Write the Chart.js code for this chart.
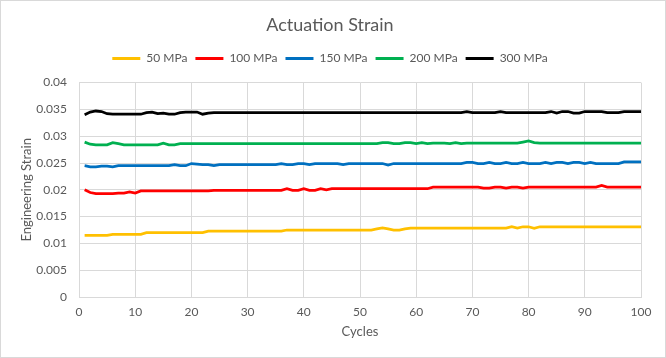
<!DOCTYPE html>
<html lang="en">
<head>
<meta charset="UTF-8">
<title>Actuation Strain</title>
<script src="https://cdn.jsdelivr.net/npm/chart.js"></script>
<style>
  body { margin: 0; padding: 0; background: #fff; }
  .frame {
    width: 666px; height: 358px; box-sizing: border-box;
    border: 1px solid #d9d9d9; background: #fff;
  }
  .frame canvas { display: block; }
</style>
</head>
<body>
<div class="frame"><canvas id="strain" width="664" height="356"></canvas></div>
<script>
const cycles = [1,2,3,4,5,6,7,8,9,10,11,12,13,14,15,16,17,18,19,20,21,22,23,24,25,26,27,28,29,30,
  31,32,33,34,35,36,37,38,39,40,41,42,43,44,45,46,47,48,49,50,51,52,53,54,55,56,57,58,59,60,
  61,62,63,64,65,66,67,68,69,70,71,72,73,74,75,76,77,78,79,80,81,82,83,84,85,86,87,88,89,90,
  91,92,93,94,95,96,97,98,99,100];

const seriesNames = ['50 MPa', '100 MPa', '150 MPa', '200 MPa', '300 MPa'];
const seriesColors = ['#FFC000', '#FF0000', '#0070C0', '#00B050', '#000000'];

const strain50 = [
  0.0115,0.0115,0.0115,0.0115,0.0115,0.0117,0.0117,0.0117,0.0117,0.0117,
  0.0117,0.0120,0.0120,0.0120,0.0120,0.0120,0.0120,0.0120,0.0120,0.0120,
  0.0120,0.0120,0.0123,0.0123,0.0123,0.0123,0.0123,0.0123,0.0123,0.0123,
  0.0123,0.0123,0.0123,0.0123,0.0123,0.0123,0.0125,0.0125,0.0125,0.0125,
  0.0125,0.0125,0.0125,0.0125,0.0125,0.0125,0.0125,0.0125,0.0125,0.0125,
  0.0125,0.0125,0.0127,0.0129,0.0127,0.0125,0.0125,0.0127,0.01285,0.01285,
  0.01285,0.01285,0.01285,0.01285,0.01285,0.01285,0.01285,0.01285,0.01285,0.01285,
  0.01285,0.01285,0.01285,0.01285,0.01285,0.01285,0.0131,0.01285,0.0131,0.0131,
  0.0128,0.0131,0.0131,0.0131,0.0131,0.0131,0.0131,0.0131,0.0131,0.0131,
  0.0131,0.0131,0.0131,0.0131,0.0131,0.0131,0.0131,0.0131,0.0131,0.0131
];
const strain100 = [
  0.0200,0.0195,0.0193,0.0193,0.0193,0.0193,0.0194,0.0194,0.0196,0.0194,
  0.0198,0.0198,0.0198,0.0198,0.0198,0.0198,0.0198,0.0198,0.0198,0.0198,
  0.0198,0.0198,0.0198,0.0199,0.0199,0.0199,0.0199,0.0199,0.0199,0.0199,
  0.0199,0.0199,0.0199,0.0199,0.0199,0.0199,0.0202,0.0199,0.0199,0.0202,
  0.0199,0.0199,0.0202,0.0200,0.0202,0.0202,0.0202,0.0202,0.0202,0.0202,
  0.0202,0.0202,0.0202,0.0202,0.0202,0.0202,0.0202,0.0202,0.0202,0.0202,
  0.0202,0.0202,0.0205,0.0205,0.0205,0.0205,0.0205,0.0205,0.0205,0.0205,
  0.0205,0.0203,0.0203,0.0205,0.0205,0.0203,0.0205,0.0205,0.0203,0.0205,
  0.0205,0.0205,0.0205,0.0205,0.0205,0.0205,0.0205,0.0205,0.0205,0.0205,
  0.0205,0.0205,0.0208,0.0205,0.0205,0.0205,0.0205,0.0205,0.0205,0.0205
];
const strain150 = [
  0.0245,0.0243,0.0243,0.0244,0.0244,0.0243,0.0245,0.0245,0.0245,0.0245,
  0.0245,0.0245,0.0245,0.0245,0.0245,0.0245,0.0247,0.0245,0.0245,0.0249,
  0.0248,0.0247,0.0247,0.0245,0.0247,0.0247,0.0247,0.0247,0.0247,0.0247,
  0.0247,0.0247,0.0247,0.0247,0.0247,0.0249,0.0247,0.0247,0.0249,0.0249,
  0.0247,0.0249,0.0249,0.0249,0.0249,0.0249,0.0247,0.0249,0.0249,0.0249,
  0.0249,0.0249,0.0249,0.0249,0.0246,0.0249,0.0249,0.0249,0.0249,0.0249,
  0.0249,0.0249,0.0249,0.0249,0.0249,0.0249,0.0249,0.0249,0.0251,0.0251,
  0.0249,0.0249,0.0251,0.0249,0.0249,0.0251,0.0249,0.0249,0.0251,0.0249,
  0.0249,0.0249,0.0251,0.0249,0.0251,0.0251,0.0249,0.0251,0.0251,0.0249,
  0.0251,0.0249,0.0249,0.0249,0.0249,0.0249,0.0252,0.0252,0.0252,0.0252
];
const strain200 = [
  0.0289,0.0285,0.0284,0.0284,0.0284,0.0288,0.0286,0.0284,0.0284,0.0284,
  0.0284,0.0284,0.0284,0.0284,0.0287,0.0284,0.0284,0.0286,0.0286,0.0286,
  0.0286,0.0286,0.0286,0.0286,0.0286,0.0286,0.0286,0.0286,0.0286,0.0286,
  0.0286,0.0286,0.0286,0.0286,0.0286,0.0286,0.0286,0.0286,0.0286,0.0286,
  0.0286,0.0286,0.0286,0.0286,0.0286,0.0286,0.0286,0.0286,0.0286,0.0286,
  0.0286,0.0286,0.0286,0.0288,0.0288,0.0286,0.0286,0.0288,0.0288,0.0286,
  0.0288,0.0286,0.0287,0.0287,0.0287,0.0286,0.0288,0.0286,0.0287,0.0287,
  0.0287,0.0287,0.0287,0.0287,0.0287,0.0287,0.0287,0.0287,0.0289,0.0291,
  0.0288,0.0287,0.0287,0.0287,0.0287,0.0287,0.0287,0.0287,0.0287,0.0287,
  0.0287,0.0287,0.0287,0.0287,0.0287,0.0287,0.0287,0.0287,0.0287,0.0287
];
const strain300 = [
  0.0340,0.0345,0.0347,0.0346,0.0342,0.0341,0.0341,0.0341,0.0341,0.0341,
  0.0341,0.0344,0.0345,0.0342,0.0343,0.0341,0.0341,0.0344,0.0345,0.0345,
  0.0345,0.0341,0.0343,0.0344,0.0344,0.0344,0.0344,0.0344,0.0344,0.0344,
  0.0344,0.0344,0.0344,0.0344,0.0344,0.0344,0.0344,0.0344,0.0344,0.0344,
  0.0344,0.0344,0.0344,0.0344,0.0344,0.0344,0.0344,0.0344,0.0344,0.0344,
  0.0344,0.0344,0.0344,0.0344,0.0344,0.0344,0.0344,0.0344,0.0344,0.0344,
  0.0344,0.0344,0.0344,0.0344,0.0344,0.0344,0.0344,0.0344,0.0346,0.0344,
  0.0344,0.0344,0.0344,0.0344,0.0346,0.0344,0.0344,0.0344,0.0344,0.0344,
  0.0344,0.0344,0.0344,0.0346,0.0343,0.0346,0.0346,0.0343,0.0343,0.0346,
  0.0346,0.0346,0.0346,0.0344,0.0344,0.0344,0.0346,0.0346,0.0346,0.0346
];

const xTickLabels = ['0','10','20','30','40','50','60','70','80','90','100'];
const yTickLabels = ['0','0.005','0.01','0.015','0.02','0.025','0.03','0.035','0.04'];

const allSeries = [strain50, strain100, strain150, strain200, strain300];
const textColor = '#595959';
const gridColor = '#d9d9d9';
const fontFamily = "Lato, 'Open Sans', sans-serif";

// extra room under the legend, Excel leaves a gap before the plot
const legendGap = {
  id: 'legendGap',
  beforeInit(chart) {
    const fit = chart.legend.fit;
    chart.legend.fit = function () {
      fit.bind(chart.legend)();
      this.height += 8;
    };
  }
};

const ctx = document.getElementById('strain').getContext('2d');
new Chart(ctx, {
  type: 'line',
  data: {
    datasets: allSeries.map((vals, i) => ({
      label: seriesNames[i],
      data: vals.map((v, k) => ({ x: cycles[k], y: v })),
      borderColor: seriesColors[i],
      backgroundColor: seriesColors[i],
      borderWidth: 2.75,
      pointRadius: 0,
      tension: 0,
      fill: false
    }))
  },
  options: {
    responsive: false,
    animation: false,
    layout: { padding: { left: 18, right: 24, top: 0, bottom: 17 } },
    plugins: {
      title: {
        display: true,
        text: 'Actuation Strain',
        color: textColor,
        font: { family: fontFamily, size: 18, weight: 'normal' },
        padding: { top: 13, bottom: 9 }
      },
      legend: {
        position: 'top',
        labels: {
          color: textColor,
          font: { family: fontFamily, size: 12 },
          boxWidth: 28,
          boxHeight: 3,
          padding: 8,
          generateLabels(chart) {
            return Chart.defaults.plugins.legend.labels.generateLabels(chart).map(item => {
              item.lineWidth = 0;
              return item;
            });
          }
        }
      },
      tooltip: { enabled: false }
    },
    scales: {
      x: {
        type: 'linear',
        min: 0,
        max: 100,
        ticks: {
          stepSize: 10,
          color: textColor,
          font: { family: fontFamily, size: 12 },
          padding: 8,
          maxRotation: 0,
          callback: (v, i) => xTickLabels[i]
        },
        grid: { color: gridColor, drawTicks: false },
        border: { color: gridColor },
        title: {
          display: true,
          text: 'Cycles',
          color: textColor,
          font: { family: fontFamily, size: 13 },
          padding: { top: -3, bottom: 0 }
        }
      },
      y: {
        min: 0,
        max: 0.04,
        afterFit(scale) { scale.width = 60; },
        ticks: {
          stepSize: 0.005,
          color: textColor,
          font: { family: fontFamily, size: 12 },
          padding: 12,
          callback: (v, i) => yTickLabels[i]
        },
        grid: { color: gridColor, drawTicks: false },
        border: { color: gridColor },
        title: {
          display: true,
          text: 'Engineering Strain',
          color: textColor,
          font: { family: fontFamily, size: 13 },
          padding: { top: 0, bottom: 0 }
        }
      }
    }
  },
  plugins: [legendGap]
});
</script>
</body>
</html>
